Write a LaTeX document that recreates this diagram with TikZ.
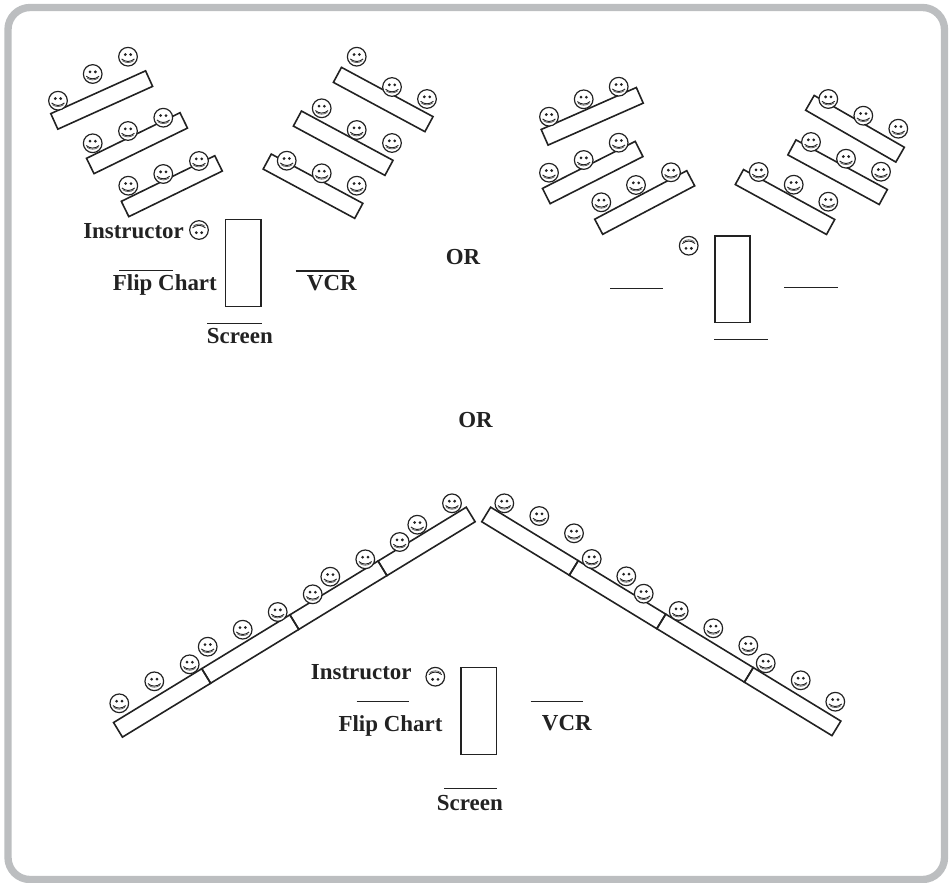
\documentclass[tikz,border=0pt]{standalone}
\usepackage{fontspec}
\setmainfont{Liberation Serif}
\usetikzlibrary{positioning,calc}
\definecolor{framegray}{HTML}{BCBEC0}
\definecolor{inkgray}{HTML}{222222}

\begin{document}
\begin{tikzpicture}[
    x=0.75pt,y=-0.75pt,
    line join=miter,
    bench/.style={rectangle,draw=inkgray,line width=1.2pt,minimum width=78pt,minimum height=12.8pt,inner sep=0pt,outer sep=0pt},
    board/.style={rectangle,draw=inkgray,line width=1.2pt,minimum width=26.5pt,minimum height=65pt,inner sep=0pt,outer sep=0pt},
    smiley/.style={circle,draw=inkgray,line width=0.9pt,fill=white,minimum size=14pt,inner sep=0pt,
        path picture={
            \fill[inkgray] ([shift={(-2pt,1.6pt)}]path picture bounding box.center) circle (1.15pt);
            \fill[inkgray] ([shift={(2pt,1.6pt)}]path picture bounding box.center) circle (1.15pt);
            \draw[inkgray,line width=0.7pt] ([shift={(-4.8pt,-1.7pt)}]path picture bounding box.center) to[bend right=42] ([shift={(4.8pt,-1.7pt)}]path picture bounding box.center);
            \draw[inkgray!70,line width=0.6pt] ([shift={(-4.2pt,-3pt)}]path picture bounding box.center) to[bend right=35] ([shift={(4.2pt,-3pt)}]path picture bounding box.center);
        }},
    leader/.style={circle,draw=inkgray,line width=0.9pt,fill=white,minimum size=14pt,inner sep=0pt,
        path picture={
            \fill[inkgray] ([shift={(-2pt,-2pt)}]path picture bounding box.center) circle (1.15pt);
            \fill[inkgray] ([shift={(2pt,-2pt)}]path picture bounding box.center) circle (1.15pt);
            \draw[inkgray,line width=0.7pt] ([shift={(-4.8pt,1.6pt)}]path picture bounding box.center) to[bend left=42] ([shift={(4.8pt,1.6pt)}]path picture bounding box.center);
            \draw[inkgray!70,line width=0.6pt] ([shift={(-4.2pt,3pt)}]path picture bounding box.center) to[bend left=35] ([shift={(4.2pt,3pt)}]path picture bounding box.center);
        }},
    blank/.style={draw=inkgray,line width=1.1pt},
    lbl/.style={anchor=base west,inner sep=0pt,text=inkgray,font=\fontsize{17.2}{20}\selectfont\bfseries}
]
    \useasboundingbox (0,0) rectangle (949,882);
    \draw[framegray,line width=5.5pt,rounded corners=16.5pt] (8,7.5) rectangle (944.5,879.5);

    % first layout
    \node[bench,rotate=24.3] (a1) at (101.7,100) {};
    \node[bench,rotate=26] (a2) at (137,143.2) {};
    \node[bench,rotate=26] (a3) at (171.8,186.2) {};
    \node[bench,rotate=-28.3] (b1) at (383.2,99.5) {};
    \node[bench,rotate=-28.3] (b2) at (343.2,143.2) {};
    \node[bench,rotate=-28.3] (b3) at (313,186.2) {};
    \foreach \x/\y [count=\i] in {58/100.7,92.7/74,128/56.7,92.7/143.3,128/131,163.3/117.7,128.3/185.7,163.3/174,199/161,
        356.7/56.7,392/87,427/99,321.7/108.3,356.7/130,392/143,286.7/160.7,321.7/173.3,356.7/185.7}
        \node[smiley] (fa\i) at (\x,\y) {};
    \node[leader] (ia) at (199,230) {};
    \node[board] (ra) at (243.2,263) {};
    \draw[blank] (119.3,270.7) -- (173.3,270.7);
    \draw[blank] (295.7,271) -- (349,271);
    \draw[blank] (207.3,323.3) -- (261.7,323.3);
    \node[lbl] (insta) at (83,238) {Instructor};
    \node[lbl] (flipa) at (112.7,290.7) {Flip Chart};
    \node[lbl] (vcra) at (306.7,290.7) {VCR};
    \node[lbl] (scra) at (206.7,343) {Screen};

    % second layout
    \node[bench,rotate=23.8] (c1) at (592.2,116.3) {};
    \node[bench,rotate=26.9] (c2) at (592.7,172.5) {};
    \node[bench,rotate=27.8] (c3) at (644.7,202.5) {};
    \node[bench,rotate=-29.9] (d1) at (855,128.75) {};
    \node[bench,rotate=-28.5] (d2) at (837.6,172.2) {};
    \node[bench,rotate=-28.7] (d3) at (785,202) {};
    \foreach \x/\y [count=\i] in {549/116.7,583.7/99.3,618.7/86.7,549/172.7,583.7/160,618.7/142.7,601.3/202.3,636/185,671/172.3,
        828.3/99,863.3/115.7,898.3/128.7,811/142,846/158.7,881/171.7,758.7/172,793.7/184.7,828.3/201.7}
        \node[smiley] (fb\i) at (\x,\y) {};
    \node[leader] (ib) at (688.7,245.7) {};
    \node[board] (rb) at (732.5,279.3) {};
    \draw[blank] (610,288.3) -- (663.3,288.3);
    \draw[blank] (784.3,287.7) -- (838.3,287.7);
    \draw[blank] (714.3,339.3) -- (768.3,339.3);

    \node[lbl] (or1) at (445.5,264) {OR};
    \node[lbl] (or2) at (458,427.3) {OR};

    % third layout
    \foreach \x/\y [count=\i] in {162.1/702.9,250.3/649,338.4/595.2,426.6/541.4}
        \node[bench,rotate=31.4,minimum width=77.5pt] (e\i) at (\x,\y) {};
    \foreach \x/\y [count=\i] in {530/541.2,617.5/594.7,705/648.1,792.6/701.6}
        \node[bench,rotate=-31.4,minimum width=77pt] (g\i) at (\x,\y) {};
    \foreach \x/\y [count=\i] in {119.3/703.3,154.3/681.3,189.7/664.3,207.7/646.7,242.7/629.7,277.7/612,312.7/594.3,330.3/576.7,365.3/559.3,399.7/542,417.3/524.7,452/503.3,
        504.3/503.3,539.3/516,574/533.3,591.7/559,626.3/576.3,643.7/593.7,678.7/611,713.3/628.3,748.3/645.7,765.7/663.3,800.7/680.3,835.3/701.7}
        \node[smiley] (fc\i) at (\x,\y) {};
    \node[leader] (ic) at (435.3,676.7) {};
    \node[board] (rc) at (478.8,711) {};
    \draw[blank] (356.7,701.7) -- (409.3,701.7);
    \draw[blank] (530.7,701.7) -- (583.3,701.7);
    \draw[blank] (444,788.3) -- (496.7,788.3);
    \node[lbl] (instc) at (310.7,679) {Instructor};
    \node[lbl] (flipc) at (338.3,731.7) {Flip Chart};
    \node[lbl] (vcrc) at (541.7,730.7) {VCR};
    \node[lbl] (scrc) at (436.7,810) {Screen};
\end{tikzpicture}
\end{document}
